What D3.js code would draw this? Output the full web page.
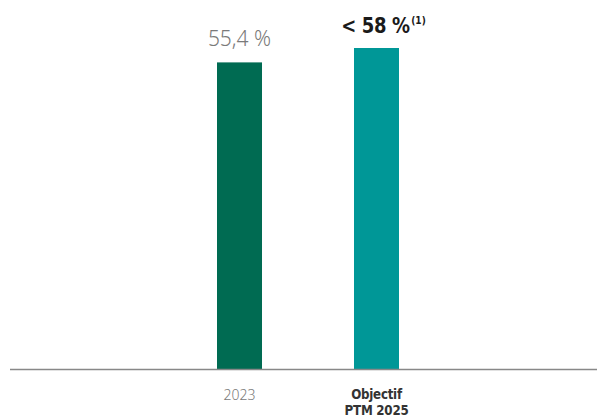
<!DOCTYPE html>
<html>
<head>
<meta charset="utf-8">
<script src="https://cdn.jsdelivr.net/npm/d3@7"></script>
<style>
  body { margin: 0; padding: 0; background: #fff; }
</style>
</head>
<body>
<script>
const width = 597;
const height = 418;

// data
const categories = ["2023", "Objectif PTM 2025"];
const values = [55.4, 58];
const valueLabels = ["55,4 %", "< 58 %"];
const colors = ["#006b52", "#009797"];

const svg = d3.select("body")
    .append("svg")
    .attr("width", width)
    .attr("height", height);

const x = d3.scaleBand()
    .domain(categories)
    .range([217, 399])
    .paddingInner(0.6715)
    .paddingOuter(0);

const y = d3.scaleLinear()
    .domain([0, 58])
    .range([369, 48]);

// bars
svg.selectAll("rect.bar")
    .data(values)
    .enter()
    .append("rect")
    .attr("class", "bar")
    .attr("x", (d, i) => x(categories[i]))
    .attr("y", d => y(d))
    .attr("width", x.bandwidth())
    .attr("height", d => y(0) - y(d))
    .attr("fill", (d, i) => colors[i]);

// baseline
svg.append("line")
    .attr("x1", 10)
    .attr("x2", width)
    .attr("y1", y(0) + 0.5)
    .attr("y2", y(0) + 0.5)
    .attr("stroke", "#888")
    .attr("stroke-width", 1.5);

// value labels
const cx = i => x(categories[i]) + x.bandwidth() / 2;

svg.append("text")
    .attr("x", cx(0))
    .attr("y", y(values[0]) - 16)
    .attr("text-anchor", "middle")
    .attr("font-family", "'Noto Sans', sans-serif")
    .attr("font-weight", 300)
    .attr("font-size", 21)
    .attr("fill", "#7a7a7a")
    .text(valueLabels[0]);

// bold labels are squeezed horizontally to look condensed
const t2 = svg.append("text")
    .attr("transform", `translate(${cx(1) + 7},${y(values[1]) - 15}) scale(0.82,1)`)
    .attr("text-anchor", "middle")
    .attr("font-family", "'DejaVu Sans', sans-serif")
    .attr("font-weight", "bold")
    .attr("font-size", 22)
    .attr("letter-spacing", -0.5)
    .attr("fill", "#1a1a1a");
t2.append("tspan").text(valueLabels[1]);
t2.append("tspan")
    .attr("font-size", 11)
    .attr("dx", 2)
    .attr("dy", -9)
    .attr("letter-spacing", 0)
    .text("(1)");

// category labels
svg.append("text")
    .attr("x", cx(0))
    .attr("y", 400)
    .attr("text-anchor", "middle")
    .attr("font-family", "'Noto Sans', sans-serif")
    .attr("font-weight", 300)
    .attr("font-size", 14)
    .attr("fill", "#7a7a7a")
    .text(categories[0]);

const catLines = ["Objectif", "PTM 2025"];
svg.append("text")
    .attr("transform", `translate(${cx(1)},0) scale(0.85,1)`)
    .attr("text-anchor", "middle")
    .attr("font-family", "'DejaVu Sans', sans-serif")
    .attr("font-weight", "bold")
    .attr("font-size", 14)
    .attr("letter-spacing", -0.3)
    .attr("fill", "#333")
    .selectAll("tspan")
    .data(catLines)
    .enter()
    .append("tspan")
    .attr("x", 0)
    .attr("y", (d, i) => 399 + i * 16)
    .text(d => d);
</script>
</body>
</html>
